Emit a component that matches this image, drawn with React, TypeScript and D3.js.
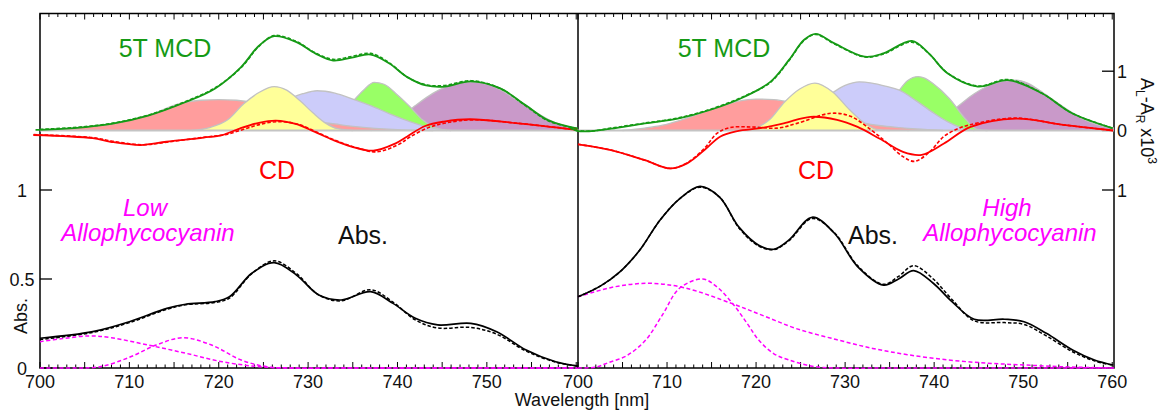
import React from 'react';
import * as d3 from 'd3';

type Pt = [number, number];

// ---------------- data ----------------
const wavelengthDomain: [number, number] = [700, 760.2];
const bottomLabelsLow = [700, 710, 720, 730, 740, 750];
const bottomLabelsHigh = [700, 710, 720, 730, 740, 750, 760];
const absTickValues = [0, 0.5, 1];
const absTickLabels = ['0', '0.5', '1'];
const mcdTickValues = [0, 1];
const mcdTickLabels = ['0', '1'];
const absRightTickValues = [1];
const absRightTickLabels = ['1'];

// ---- Low allophycocyanin (left) ----
const mcdLowMeas: Pt[] = [[699.5, 0.01], [700, 0.01], [703.8, 0.04], [708, 0.11], [712.1, 0.25], [716.3, 0.48], [719.6, 0.71], [722.5, 1.07], [724.5, 1.43], [726.2, 1.59], [728.7, 1.49], [730.8, 1.3], [732.8, 1.18], [734.9, 1.23], [737, 1.28], [739.1, 1.13], [741.1, 0.9], [743.2, 0.76], [745.3, 0.74], [748.2, 0.83], [751.5, 0.71], [754.4, 0.42], [756.9, 0.17], [760.2, 0.03]];
const mcdLowFit: Pt[] = [[700, 0.02], [703.8, 0.05], [708, 0.12], [712.1, 0.26], [716.3, 0.49], [719.6, 0.72], [722.5, 1.06], [724.5, 1.42], [726.2, 1.6], [728.7, 1.5], [730.8, 1.31], [732.8, 1.2], [734.9, 1.25], [737, 1.3], [739.1, 1.14], [741.1, 0.9], [743.2, 0.77], [745.3, 0.76], [748.2, 0.84], [751.5, 0.71], [754.4, 0.41], [756.9, 0.16], [760.2, 0.03]];
const cdLowMeas: Pt[] = [[699.25, -0.076], [705.9, -0.13], [707.9, -0.19], [711.25, -0.245], [714.15, -0.19], [718.3, -0.12], [720.4, -0.076], [722.4, 0.037], [724.5, 0.13], [726.4, 0.166], [728.6, 0.11], [730.7, -0.02], [732.8, -0.16], [734.85, -0.27], [737.3, -0.34], [739.8, -0.216], [741.1, -0.1], [743.1, 0.076], [745.2, 0.15], [748.1, 0.19], [753.5, 0.12], [760.1, 0.01]];
const cdLowFit: Pt[] = [[699.3, -0.07], [705.9, -0.12], [708.1, -0.18], [711.6, -0.24], [714.5, -0.19], [718.6, -0.11], [720.7, -0.07], [722.8, 0.02], [724.8, 0.11], [726.8, 0.15], [729, 0.1], [731, -0.03], [733.1, -0.17], [735.2, -0.28], [737.7, -0.36], [740.2, -0.23], [741.4, -0.11], [743.5, 0.05], [745.5, 0.13], [748.4, 0.18], [753.6, 0.12], [760.1, 0.01]];
const absLowMeas: Pt[] = [[700, 0.167], [705.9, 0.204], [710, 0.26], [714.2, 0.335], [716.3, 0.358], [719.6, 0.373], [721.2, 0.4], [723.7, 0.532], [726.2, 0.592], [728.7, 0.522], [731.2, 0.41], [733.7, 0.382], [737, 0.429], [739.5, 0.363], [742, 0.279], [744.5, 0.242], [748.2, 0.251], [751.1, 0.204], [754.4, 0.101], [757.7, 0.035], [760.2, 0.011]];
const absLowFit: Pt[] = [[700, 0.16], [705.9, 0.2], [710, 0.255], [714.2, 0.33], [716.3, 0.355], [719.6, 0.368], [721.2, 0.393], [723.7, 0.53], [726.2, 0.602], [728.7, 0.53], [731.2, 0.41], [733.7, 0.377], [737, 0.44], [739.5, 0.37], [742, 0.27], [744.5, 0.225], [748.2, 0.228], [751.1, 0.19], [754.4, 0.095], [757.7, 0.033], [760.2, 0.01]];
const apcLowBroad: Pt[] = [[700, 0.148], [702.5, 0.165], [705.5, 0.18], [708, 0.17], [712.1, 0.129], [716.3, 0.083], [720.4, 0.035], [724.6, 0.007], [728, 0], [735, 0], [760.2, 0]];
const apcLowNarrow: Pt[] = [[700, 0], [704, 0], [706.7, 0.007], [710, 0.06], [713, 0.129], [716, 0.17], [719.2, 0.129], [722.5, 0.045], [725.4, 0.007], [728, 0], [735, 0], [760.2, 0]];
const bandLowRed: Pt[] = [[700, 0.01], [703.8, 0.04], [708, 0.11], [712, 0.25], [716, 0.47], [718, 0.51], [720, 0.52], [722, 0.51], [724.5, 0.44], [727, 0.32], [729, 0.22], [731, 0.15], [733, 0.11], [735, 0.07], [737.5, 0.035], [740.5, 0.01], [744, 0]];
const bandLowYellow: Pt[] = [[717, 0], [719, 0.05], [721, 0.18], [722.8, 0.45], [724.5, 0.64], [726.2, 0.74], [727.6, 0.68], [729.1, 0.5], [730.6, 0.29], [732, 0.12], [733.3, 0.03], [735, 0]];
const bandLowLavender: Pt[] = [[719, 0], [722, 0.1], [725, 0.3], [727, 0.47], [729.4, 0.62], [731, 0.67], [733, 0.63], [735, 0.53], [737, 0.42], [739, 0.29], [741.4, 0.15], [743.6, 0.05], [746, 0]];
const bandLowGreen: Pt[] = [[731, 0], [733, 0.2], [734, 0.33], [735, 0.49], [736.2, 0.68], [737.4, 0.81], [738.5, 0.78], [740, 0.6], [741.4, 0.4], [742.8, 0.18], [744, 0.06], [745.5, 0]];
const bandLowPurple: Pt[] = [[737, 0], [738.5, 0.06], [740, 0.18], [742, 0.42], [744, 0.63], [746, 0.77], [748.2, 0.82], [750, 0.78], [751.5, 0.69], [753, 0.55], [754.5, 0.41], [756, 0.26], [757.5, 0.14], [759, 0.06], [760.2, 0.03]];

// ---- High allophycocyanin (right) ----
const mcdHighMeas: Pt[] = [[699.1, 0.05], [700, -0.01], [701.5, -0.01], [703.7, 0.03], [707.5, 0.12], [711.2, 0.2], [714.9, 0.35], [718.7, 0.57], [721.6, 0.82], [723.7, 1.19], [725.4, 1.53], [726.7, 1.63], [728.8, 1.47], [732.2, 1.245], [734.3, 1.3], [737.5, 1.51], [739.4, 1.3], [741.5, 0.965], [744.9, 0.74], [748.3, 0.85], [752.1, 0.627], [755.5, 0.29], [760.06, 0.037]];
const mcdHighFit: Pt[] = [[699.1, 0.04], [700, 0.0], [701.5, -0.01], [703.7, 0.04], [707.5, 0.125], [711.2, 0.21], [714.9, 0.36], [718.7, 0.58], [721.6, 0.81], [723.7, 1.18], [725.4, 1.52], [726.7, 1.62], [728.8, 1.46], [732.2, 1.24], [734.3, 1.29], [737.5, 1.49], [739.4, 1.3], [741.5, 0.97], [744.9, 0.75], [748.3, 0.86], [752.1, 0.63], [755.5, 0.29], [760.06, 0.04]];
const cdHighMeas: Pt[] = [[700, -0.233], [703.7, -0.33], [707.5, -0.5], [710.4, -0.64], [712.3, -0.55], [714.2, -0.33], [716, -0.1], [717.9, -0.01], [720.5, 0.04], [723.1, 0.12], [726.1, 0.23], [729.1, 0.18], [731.4, 0.06], [733.9, -0.14], [736.5, -0.36], [738.6, -0.41], [741.1, -0.22], [744.1, 0.06], [749.2, 0.2], [754.3, 0.1], [760.1, 0.0]];
const cdHighFit: Pt[] = [[700, -0.233], [703.7, -0.33], [707.5, -0.5], [710.4, -0.64], [712.3, -0.54], [714.2, -0.3], [715.6, -0.05], [717.1, 0.05], [719.4, 0.06], [722.4, 0.04], [724.6, 0.12], [728.4, 0.29], [730.6, 0.24], [733, 0.0], [734.8, -0.22], [736.5, -0.44], [737.8, -0.52], [739.5, -0.36], [741.1, -0.1], [743, 0.05], [745, 0.13], [749.2, 0.21], [754.3, 0.1], [760.1, 0.0]];
const absHighMeas: Pt[] = [[700, 0.4], [702.5, 0.46], [704.7, 0.54], [706.9, 0.66], [709.2, 0.83], [711.4, 0.95], [713.7, 1.02], [715.9, 0.96], [718.1, 0.79], [720.3, 0.69], [722, 0.667], [723.7, 0.72], [726.3, 0.847], [728.8, 0.757], [731.4, 0.57], [734.3, 0.466], [736, 0.5], [737.7, 0.547], [739.9, 0.476], [742, 0.373], [744.5, 0.274], [747.9, 0.274], [750.1, 0.26], [752.6, 0.195], [755.6, 0.1], [758, 0.045], [760.1, 0.017]];
const absHighFit: Pt[] = [[700, 0.4], [702.5, 0.46], [704.7, 0.54], [706.9, 0.66], [709.2, 0.83], [711.4, 0.95], [713.7, 1.015], [715.9, 0.96], [718.1, 0.785], [720.3, 0.685], [722, 0.665], [723.7, 0.715], [726.3, 0.84], [728.8, 0.76], [731.4, 0.575], [734.3, 0.47], [736, 0.515], [737.7, 0.575], [739.9, 0.5], [742, 0.385], [744.5, 0.265], [747.9, 0.255], [750.1, 0.245], [752.6, 0.18], [755.6, 0.09], [758, 0.04], [760.1, 0.015]];
const apcHighBroad: Pt[] = [[700, 0.4], [704, 0.455], [708, 0.476], [712, 0.45], [717.4, 0.36], [721, 0.29], [724.6, 0.22], [729, 0.16], [733.1, 0.11], [737, 0.075], [741.6, 0.045], [746, 0.027], [750.1, 0.017], [755, 0.006], [760.2, 0]];
const apcHighNarrow: Pt[] = [[700, 0], [702, 0.005], [703.4, 0.03], [705.5, 0.07], [707.6, 0.157], [709.5, 0.3], [711.4, 0.448], [714, 0.5], [715.5, 0.46], [717.4, 0.36], [719, 0.25], [720.3, 0.157], [722, 0.08], [723.7, 0.045], [726.3, 0.01], [729, 0], [735, 0], [760.2, 0]];
const bandHighRed: Pt[] = [[705, 0], [707.5, 0.04], [709.5, 0.09], [711.2, 0.16], [713, 0.25], [714.9, 0.35], [717.9, 0.49], [720, 0.53], [722, 0.52], [724, 0.47], [726, 0.39], [728, 0.3], [730, 0.21], [732, 0.13], [734, 0.08], [736, 0.05], [738, 0.025], [741, 0]];
const bandHighYellow: Pt[] = [[718, 0], [720, 0.05], [721.5, 0.18], [723.2, 0.48], [724.9, 0.7], [726.6, 0.8], [728.6, 0.65], [730.5, 0.35], [732.4, 0.1], [733.5, 0.02], [735, 0]];
const bandHighLavender: Pt[] = [[719, 0], [722, 0.08], [725, 0.3], [727, 0.5], [728.6, 0.64], [730, 0.76], [731.6, 0.82], [733, 0.8], [734.5, 0.75], [736.1, 0.68], [738, 0.5], [739.8, 0.31], [741.5, 0.15], [743, 0.05], [744.5, 0]];
const bandHighGreen: Pt[] = [[731, 0], [733.5, 0.15], [735, 0.42], [736.1, 0.68], [737, 0.84], [738.2, 0.91], [739, 0.88], [739.8, 0.8], [741.7, 0.54], [743.6, 0.18], [744.8, 0.02], [746, 0]];
const bandHighPurple: Pt[] = [[737, 0], [738, 0.02], [740, 0.1], [742.6, 0.4], [744.5, 0.62], [746.5, 0.78], [748, 0.84], [749.2, 0.85], [750.5, 0.8], [752.2, 0.64], [754, 0.45], [755.6, 0.29], [757.5, 0.14], [759, 0.07], [760.2, 0.04]];

// ---------------- styling ----------------
const FONT = '"Liberation Sans", Arial, Helvetica, sans-serif';
const C_GREEN = '#159a15';
const C_RED = '#ff0000';
const C_MAG = '#ff00ff';
const FILLS = { red: '#ff9d9d', yellow: '#ffff99', lavender: '#ccccfa', green: '#99ff66', purple: '#c999c9' };

const TOP = 13.5;
const BOTTOM = 368;

type PanelProps = {
  x0: number; x1: number; labels: number[];
  bands: { data: Pt[]; fill: string }[];
  mcdM: Pt[]; mcdF: Pt[]; cdM: Pt[]; cdF: Pt[]; absM: Pt[]; absF: Pt[]; apcA: Pt[]; apcB: Pt[];
};

function Panel(p: PanelProps) {
  const x = d3.scaleLinear().domain(wavelengthDomain).range([p.x0, p.x1]);
  const yM = d3.scaleLinear().domain([0, 1]).range([130.5, 71.2]);
  const yA = d3.scaleLinear().domain([0, 1]).range([BOTTOM, 190]);
  const curve = d3.curveCatmullRom.alpha(0.5);
  const bandCurve = d3.curveMonotoneX;
  const lineM = d3.line<Pt>().x(d => x(d[0])).y(d => yM(d[1])).curve(curve);
  const lineA = d3.line<Pt>().x(d => x(d[0])).y(d => yA(d[1])).curve(curve);
  const bandTop = d3.line<Pt>().x(d => x(d[0])).y(d => yM(d[1])).curve(bandCurve);
  const areaM = d3.area<Pt>().x(d => x(d[0])).y0(yM(0)).y1(d => yM(d[1])).curve(bandCurve);
  const minor = d3.range(700, 761, 1);
  return (
    <g>
      {minor.map(w => {
        const len = w % 5 === 0 ? 6 : 3.5;
        return (
          <g key={w}>
            <line x1={x(w)} x2={x(w)} y1={TOP} y2={TOP + len} stroke="#000" strokeWidth={1} />
            <line x1={x(w)} x2={x(w)} y1={BOTTOM} y2={BOTTOM - len} stroke="#000" strokeWidth={1} />
          </g>
        );
      })}
      {p.labels.map(w => (
        <text key={'l' + w} x={x(w)} y={388} textAnchor="middle" fontSize={18} fontFamily={FONT} fill="#111">{w}</text>
      ))}
      {p.bands.map((b, i) => (
        <g key={'b' + i}>
          <path d={areaM(b.data) || ''} fill={b.fill} />
          <path d={bandTop(b.data) || ''} fill="none" stroke="#c2c2c2" strokeWidth={1.3} />
        </g>
      ))}
      <line x1={p.x0} x2={p.x1} y1={yM(0)} y2={yM(0)} stroke="#c4c4c4" strokeWidth={2.2} />
      <path d={lineM(p.mcdF) || ''} fill="none" stroke={C_GREEN} strokeWidth={1.6} strokeDasharray="3.5,2" />
      <path d={lineM(p.mcdM) || ''} fill="none" stroke={C_GREEN} strokeWidth={1.8} />
      <path d={lineM(p.cdF) || ''} fill="none" stroke={C_RED} strokeWidth={1.6} strokeDasharray="3.5,2" />
      <path d={lineM(p.cdM) || ''} fill="none" stroke={C_RED} strokeWidth={1.8} />
      <path d={lineA(p.apcA) || ''} fill="none" stroke={C_MAG} strokeWidth={1.5} strokeDasharray="4,2.5" />
      <path d={lineA(p.apcB) || ''} fill="none" stroke={C_MAG} strokeWidth={1.5} strokeDasharray="4,2.5" />
      <path d={lineA(p.absF) || ''} fill="none" stroke="#000" strokeWidth={1.5} strokeDasharray="3.5,2" />
      <path d={lineA(p.absM) || ''} fill="none" stroke="#000" strokeWidth={1.7} />
    </g>
  );
}

export default function App() {
  const yM = d3.scaleLinear().domain([0, 1]).range([130.5, 71.2]);
  const yA = d3.scaleLinear().domain([0, 1]).range([BOTTOM, 190]);
  const L0 = 40, MID = 578, R1 = 1114;
  return (
    <svg width={1164} height={414} style={{ position: 'absolute', left: 0, top: 0, background: '#fff' }} fontFamily={FONT}>
      <rect x={0} y={0} width={1164} height={414} fill="#fff" />
      {/* frame */}
      <rect x={L0} y={TOP} width={R1 - L0} height={BOTTOM - TOP} fill="none" stroke="#000" strokeWidth={1.5} />
      <line x1={MID} x2={MID} y1={TOP} y2={BOTTOM} stroke="#000" strokeWidth={1.5} />
      {/* left axis */}
      {absTickValues.map((t, i) => (
        <g key={'la' + t}>
          <line x1={L0} x2={L0 + 12} y1={yA(t)} y2={yA(t)} stroke="#000" strokeWidth={1.3} />
          <text x={22} y={yA(t) + 6.5} textAnchor="middle" fontSize={18} fill="#111">{absTickLabels[i]}</text>
        </g>
      ))}
      {/* right axis */}
      {mcdTickValues.map((t, i) => (
        <g key={'rm' + t}>
          <line x1={R1 - 12} x2={R1} y1={yM(t)} y2={yM(t)} stroke="#000" strokeWidth={1.3} />
          <text x={1122} y={yM(t) + 6.5} textAnchor="middle" fontSize={18} fill="#111">{mcdTickLabels[i]}</text>
        </g>
      ))}
      {absRightTickValues.map((t, i) => (
        <g key={'ra' + t}>
          <line x1={R1 - 12} x2={R1} y1={yA(t)} y2={yA(t)} stroke="#000" strokeWidth={1.3} />
          <text x={1122} y={yA(t) + 6.5} textAnchor="middle" fontSize={18} fill="#111">{absRightTickLabels[i]}</text>
        </g>
      ))}
      <Panel x0={L0} x1={MID} labels={bottomLabelsLow}
        bands={[
          { data: bandLowPurple, fill: FILLS.purple },
          { data: bandLowGreen, fill: FILLS.green },
          { data: bandLowLavender, fill: FILLS.lavender },
          { data: bandLowRed, fill: FILLS.red },
          { data: bandLowYellow, fill: FILLS.yellow },
        ]}
        mcdM={mcdLowMeas} mcdF={mcdLowFit} cdM={cdLowMeas} cdF={cdLowFit}
        absM={absLowMeas} absF={absLowFit} apcA={apcLowBroad} apcB={apcLowNarrow} />
      <Panel x0={MID} x1={R1} labels={bottomLabelsHigh}
        bands={[
          { data: bandHighPurple, fill: FILLS.purple },
          { data: bandHighGreen, fill: FILLS.green },
          { data: bandHighLavender, fill: FILLS.lavender },
          { data: bandHighRed, fill: FILLS.red },
          { data: bandHighYellow, fill: FILLS.yellow },
        ]}
        mcdM={mcdHighMeas} mcdF={mcdHighFit} cdM={cdHighMeas} cdF={cdHighFit}
        absM={absHighMeas} absF={absHighFit} apcA={apcHighBroad} apcB={apcHighNarrow} />
      {/* axis titles */}
      <text x={582} y={406} textAnchor="middle" fontSize={18} fill="#111">Wavelength [nm]</text>
      <text transform="translate(26.5,316) rotate(-90)" textAnchor="middle" fontSize={18} fill="#111">Abs.</text>
      <text transform="translate(1140.5,121) rotate(90)" textAnchor="middle" fontSize={18} fill="#111">
        A<tspan dy={5} fontSize={12}>L</tspan><tspan dy={-5}>-A</tspan><tspan dy={5} fontSize={12}>R</tspan><tspan dy={-5}> x10</tspan><tspan dy={-7} fontSize={12}>3</tspan>
      </text>
      {/* annotations */}
      <text x={165} y={57} textAnchor="middle" fontSize={25} fill={C_GREEN}>5T MCD</text>
      <text x={724} y={57} textAnchor="middle" fontSize={25} fill={C_GREEN}>5T MCD</text>
      <text x={277} y={179} textAnchor="middle" fontSize={25} fill={C_RED}>CD</text>
      <text x={816} y={179} textAnchor="middle" fontSize={25} fill={C_RED}>CD</text>
      <text x={363} y={244} textAnchor="middle" fontSize={25} fill="#111">Abs.</text>
      <text x={873} y={244} textAnchor="middle" fontSize={25} fill="#111">Abs.</text>
      <text x={145} y={216} textAnchor="middle" fontSize={24} fontStyle="italic" fill={C_MAG}>Low</text>
      <text x={148} y={241} textAnchor="middle" fontSize={24} fontStyle="italic" fill={C_MAG}>Allophycocyanin</text>
      <text x={1007} y={216} textAnchor="middle" fontSize={24} fontStyle="italic" fill={C_MAG}>High</text>
      <text x={1010} y={241} textAnchor="middle" fontSize={24} fontStyle="italic" fill={C_MAG}>Allophycocyanin</text>
    </svg>
  );
}
